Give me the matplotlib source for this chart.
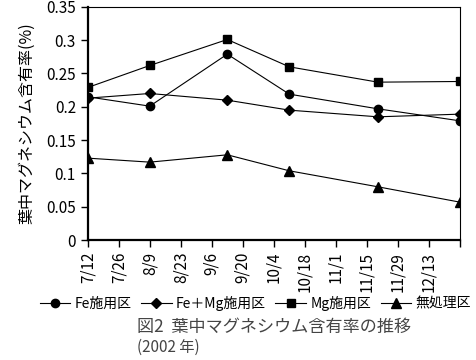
import pandas as pd
import matplotlib
matplotlib.use("Agg")
import matplotlib.pyplot as plt

plt.rcParams['font.family'] = ['Noto Sans CJK JP', 'DejaVu Sans']

# sampling dates (2002) and Mg content (%)
dates = pd.to_datetime(['2002-07-12', '2002-08-09', '2002-09-13',
                        '2002-10-11', '2002-11-20', '2002-12-27'])
fe = [0.215, 0.201, 0.279, 0.219, 0.197, 0.179]
fe_mg = [0.213, 0.220, 0.210, 0.195, 0.185, 0.189]
mg = [0.229, 0.262, 0.301, 0.260, 0.237, 0.238]
control = [0.123, 0.117, 0.128, 0.104, 0.080, 0.057]

tick_labels = ['7/12', '7/26', '8/9', '8/23', '9/6', '9/20', '10/4',
               '10/18', '11/1', '11/15', '11/29', '12/13', '']
y_ticks = [0, 0.05, 0.1, 0.15, 0.2, 0.25, 0.3, 0.35]
y_labels = ['0', '0.05', '0.1', '0.15', '0.2', '0.25', '0.3', '0.35']

fig = plt.figure(figsize=(4.77, 3.6), dpi=100)
ax = fig.add_axes([0.184, 0.333, 0.780, 0.648])

style = dict(color='black', linewidth=0.8)
ax.plot(dates, fe, marker='o', markersize=6, label='Fe施用区', **style)
ax.plot(dates, fe_mg, marker='D', markersize=5, label='Fe＋Mg施用区', **style)
ax.plot(dates, mg, marker='s', markersize=6, label='Mg施用区', **style)
ax.plot(dates, control, marker='^', markersize=7, label='無処理区', **style)

ticks = pd.date_range('2002-07-12', periods=13, freq='14D')
ax.set_xlim(ticks[0], ticks[-1])
ax.set_xticks(ticks)
ax.set_xticklabels(tick_labels, rotation=90, fontsize=11)
ax.set_ylim(0, 0.35)
ax.set_yticks(y_ticks)
ax.set_yticklabels(y_labels, fontsize=11)
ax.tick_params(direction='out', length=5, width=1, color='black')
ax.set_ylabel('葉中マグネシウム含有率(%)', fontsize=11.5, labelpad=8)

for side in ['left', 'bottom']:
    ax.spines[side].set_linewidth(1.6)
for side in ['top', 'right']:
    ax.spines[side].set_linewidth(0.8)

fig.legend(loc='center', bbox_to_anchor=(0.535, 0.158), ncol=4, frameon=False,
           fontsize=10, handlelength=2.2, handletextpad=0.3, columnspacing=0.7)

fig.text(0.287, 0.092, '図2  葉中マグネシウム含有率の推移', fontsize=12.3,
         color='#444444', va='center')
fig.text(0.287, 0.035, '(2002 年)', fontsize=11, color='#444444', va='center')

fig.savefig('out.png', dpi=100)
